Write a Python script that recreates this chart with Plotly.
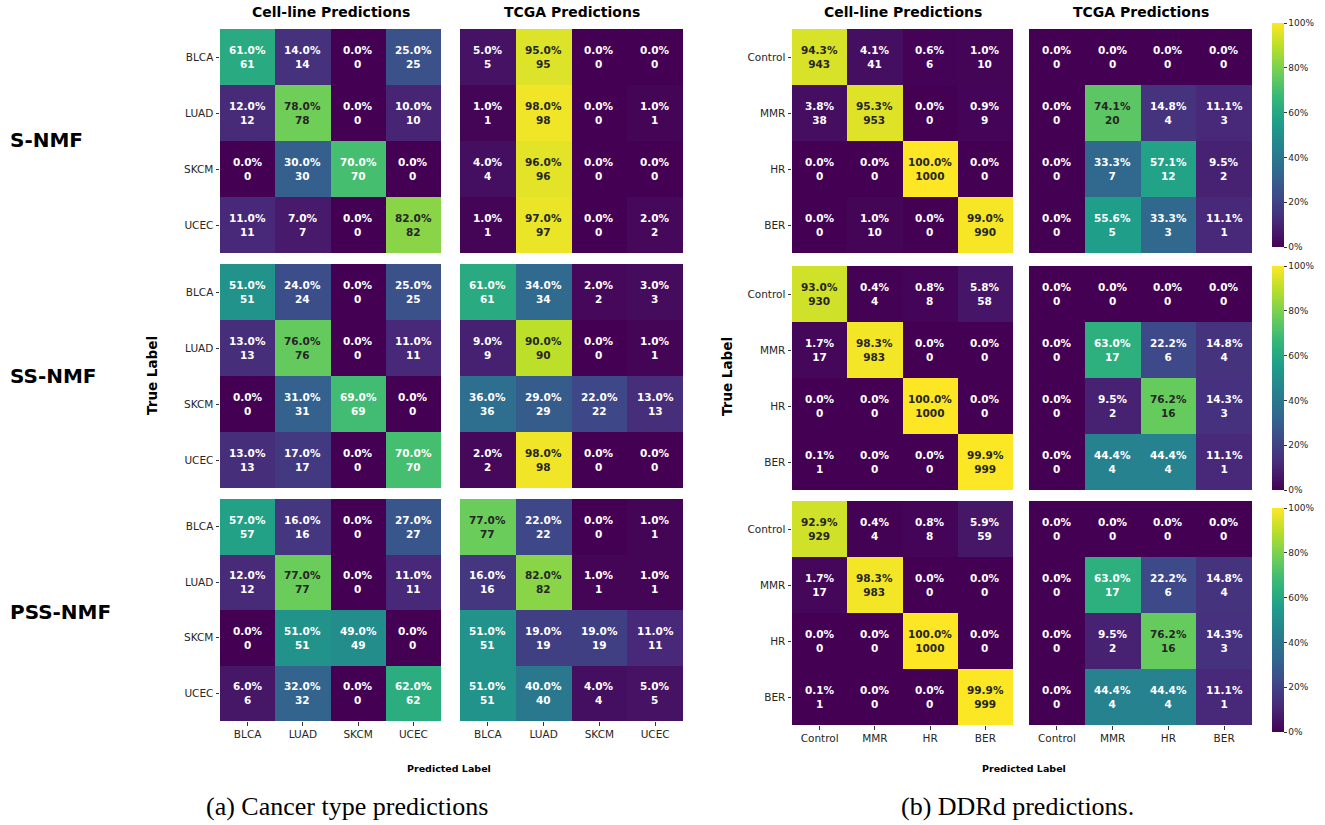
import plotly.graph_objects as go
from plotly.colors import sample_colorscale

# ---- data: confusion-matrix counts (rows = true label, cols = predicted label)
cancer_types = ["BLCA", "LUAD", "SKCM", "UCEC"]
ddr_classes = ["Control", "MMR", "HR", "BER"]
methods = ["S-NMF", "SS-NMF", "PSS-NMF"]

snmf_cancer_cell = [[61, 14, 0, 25], [12, 78, 0, 10], [0, 30, 70, 0], [11, 7, 0, 82]]
snmf_cancer_tcga = [[5, 95, 0, 0], [1, 98, 0, 1], [4, 96, 0, 0], [1, 97, 0, 2]]
ssnmf_cancer_cell = [[51, 24, 0, 25], [13, 76, 0, 11], [0, 31, 69, 0], [13, 17, 0, 70]]
ssnmf_cancer_tcga = [[61, 34, 2, 3], [9, 90, 0, 1], [36, 29, 22, 13], [2, 98, 0, 0]]
pssnmf_cancer_cell = [[57, 16, 0, 27], [12, 77, 0, 11], [0, 51, 49, 0], [6, 32, 0, 62]]
pssnmf_cancer_tcga = [[77, 22, 0, 1], [16, 82, 1, 1], [51, 19, 19, 11], [51, 40, 4, 5]]

snmf_ddr_cell = [[943, 41, 6, 10], [38, 953, 0, 9], [0, 0, 1000, 0], [0, 10, 0, 990]]
snmf_ddr_tcga = [[0, 0, 0, 0], [0, 20, 4, 3], [0, 7, 12, 2], [0, 5, 3, 1]]
ssnmf_ddr_cell = [[930, 4, 8, 58], [17, 983, 0, 0], [0, 0, 1000, 0], [1, 0, 0, 999]]
ssnmf_ddr_tcga = [[0, 0, 0, 0], [0, 17, 6, 4], [0, 2, 16, 3], [0, 4, 4, 1]]
pssnmf_ddr_cell = [[929, 4, 8, 59], [17, 983, 0, 0], [0, 0, 1000, 0], [1, 0, 0, 999]]
pssnmf_ddr_tcga = [[0, 0, 0, 0], [0, 17, 6, 4], [0, 2, 16, 3], [0, 4, 4, 1]]

colorbar_ticks = [0, 20, 40, 60, 80, 100]

# grid of matrices: rows = methods, columns = (cancer cell, cancer tcga, ddr cell, ddr tcga)
grid = [
    [snmf_cancer_cell, snmf_cancer_tcga, snmf_ddr_cell, snmf_ddr_tcga],
    [ssnmf_cancer_cell, ssnmf_cancer_tcga, ssnmf_ddr_cell, ssnmf_ddr_tcga],
    [pssnmf_cancer_cell, pssnmf_cancer_tcga, pssnmf_ddr_cell, pssnmf_ddr_tcga],
]
col_labels = [cancer_types, cancer_types, ddr_classes, ddr_classes]

# ---- page geometry (pixels)
W, H = 1325, 825


def fx(px):
    return px / W


def fy(py):
    return 1 - py / H


col_x = [(220, 441), (460, 683), (792, 1013), (1029, 1252)]
row_y_left = [(29, 253), (264, 488), (499, 721)]
row_y_right = [(29, 253), (266, 490), (501, 725)]
cbar_y = [(23, 247), (266, 490), (508, 732)]

FONT = "DejaVu Sans"
DARK = "#262626"


def row_percent(m):
    out = []
    for row in m:
        s = sum(row)
        out.append([(v / s * 100.0) if s else 0.0 for v in row])
    return out


def text_color(pct):
    rgb = sample_colorscale("Viridis", [pct / 100.0])[0]
    r, g, b = [float(c) / 255.0 for c in rgb[rgb.index("(") + 1:-1].split(",")]

    def lin(c):
        return c / 12.92 if c <= 0.03928 else ((c + 0.055) / 1.055) ** 2.4

    lum = 0.2126 * lin(r) + 0.7152 * lin(g) + 0.0722 * lin(b)
    return DARK if lum > 0.408 else "white"


fig = go.Figure()
annotations = []
layout_axes = {}

k = 0
for ri in range(3):
    for ci in range(4):
        k += 1
        counts = grid[ri][ci]
        pct = row_percent(counts)
        labels = col_labels[ci]
        x0, x1 = col_x[ci]
        y0, y1 = (row_y_left if ci < 2 else row_y_right)[ri]
        xa = "x" if k == 1 else f"x{k}"
        ya = "y" if k == 1 else f"y{k}"
        show_cb = ci == 3
        cb = None
        if show_cb:
            cy0, cy1 = cbar_y[ri]
            cb = dict(
                x=fx(1272), xanchor="left", xpad=0,
                y=fy((cy0 + cy1) / 2), yanchor="middle", ypad=0,
                thickness=12, thicknessmode="pixels",
                len=cy1 - cy0, lenmode="pixels",
                outlinewidth=0,
                tickvals=colorbar_ticks,
                ticktext=[f"{t}%" for t in colorbar_ticks],
                ticks="outside", ticklen=3, tickwidth=0.8, tickcolor="#333",
                tickfont=dict(family=FONT, size=9, color=DARK),
            )
        fig.add_trace(go.Heatmap(
            z=pct, x=[0, 1, 2, 3], y=[0, 1, 2, 3],
            colorscale="Viridis", zmin=0, zmax=100,
            showscale=show_cb, colorbar=cb,
            xgap=0, ygap=0, hoverinfo="skip",
            xaxis=xa, yaxis=ya,
        ))
        show_y = ci in (0, 2)
        show_x = ri == 2
        layout_axes["xaxis" if k == 1 else f"xaxis{k}"] = dict(
            domain=[fx(x0), fx(x1)], anchor=ya, range=[-0.5, 3.5],
            showgrid=False, zeroline=False, showline=False, fixedrange=True,
            tickvals=[0, 1, 2, 3], ticktext=labels, showticklabels=show_x,
            ticks="outside" if show_x else "", ticklen=3.5, tickwidth=0.8, tickcolor="#333",
            tickfont=dict(family=FONT, size=10.5, color=DARK),
        )
        layout_axes["yaxis" if k == 1 else f"yaxis{k}"] = dict(
            domain=[fy(y1), fy(y0)], anchor=xa, range=[3.5, -0.5],
            showgrid=False, zeroline=False, showline=False, fixedrange=True,
            tickvals=[0, 1, 2, 3], ticktext=labels, showticklabels=show_y,
            ticks="outside" if show_y else "", ticklen=3.5, tickwidth=0.8, tickcolor="#333",
            tickfont=dict(family=FONT, size=10.5, color=DARK),
        )
        for i in range(4):
            for j in range(4):
                p = pct[i][j]
                annotations.append(dict(
                    x=j, y=i, xref=xa, yref=ya, showarrow=False,
                    text=f"<b>{p:.1f}%<br>{counts[i][j]}</b>",
                    font=dict(family=FONT, size=10.5, color=text_color(p)),
                    align="center",
                ))

# column titles
for ci, title in enumerate(["Cell-line Predictions", "TCGA Predictions",
                            "Cell-line Predictions", "TCGA Predictions"]):
    x0, x1 = col_x[ci]
    annotations.append(dict(
        x=fx((x0 + x1) / 2), y=fy(12), xref="paper", yref="paper",
        showarrow=False, text=f"<b>{title}</b>",
        font=dict(family=FONT, size=14, color="black"),
        xanchor="center", yanchor="middle",
    ))

# method names
for ri, name in enumerate(methods):
    annotations.append(dict(
        x=fx(8), y=fy([140, 376, 612][ri]), xref="paper", yref="paper",
        showarrow=False, text=f"<b>{name}</b>",
        font=dict(family=FONT, size=20, color="black"),
        xanchor="left", yanchor="middle",
    ))

# axis titles
for xc in (152, 727):
    annotations.append(dict(
        x=fx(xc), y=fy(376), xref="paper", yref="paper", showarrow=False,
        text="<b>True Label</b>", textangle=-90,
        font=dict(family=FONT, size=13.5, color="black"),
        xanchor="center", yanchor="middle",
    ))
for xc in (449, 1024):
    annotations.append(dict(
        x=fx(xc), y=fy(768), xref="paper", yref="paper", showarrow=False,
        text="<b>Predicted Label</b>",
        font=dict(family=FONT, size=9.5, color="black"),
        xanchor="center", yanchor="middle",
    ))

# sub-figure captions
for xc, cap in ((347, "(a) Cancer type predictions"), (1017, "(b) DDRd predictions.")):
    annotations.append(dict(
        x=fx(xc), y=fy(806), xref="paper", yref="paper", showarrow=False,
        text=cap, font=dict(family="Liberation Serif", size=26, color="black"),
        xanchor="center", yanchor="middle",
    ))

fig.update_layout(
    width=W, height=H,
    margin=dict(l=0, r=0, t=0, b=0),
    paper_bgcolor="white", plot_bgcolor="white",
    showlegend=False,
    annotations=annotations,
    **layout_axes,
)

fig.write_html("out.html")
